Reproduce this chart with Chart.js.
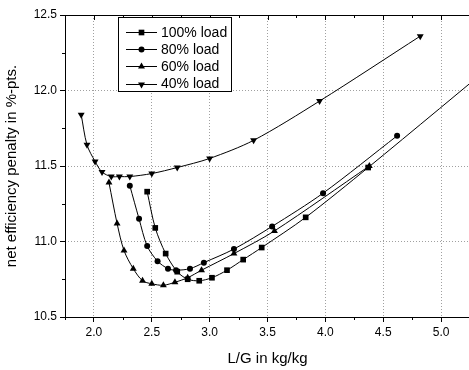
<!DOCTYPE html>
<html><head><meta charset="utf-8">
<script src="https://cdn.jsdelivr.net/npm/chart.js@4"></script>
<style>html,body{margin:0;padding:0;overflow:hidden;background:#fff}</style>
</head><body>
<canvas id="c" width="474" height="370" style="display:block"></canvas>
<script>
// ---- data ----
const seriesLabels = ['100% load', '80% load', '60% load', '40% load'];

const load100x = [2.46, 2.53, 2.62, 2.72, 2.81, 2.91, 3.02, 3.15, 3.29, 3.45, 3.83, 4.37, 5.60];
const load100y = [11.33, 11.09, 10.92, 10.80, 10.75, 10.74, 10.76, 10.81, 10.88, 10.96, 11.16, 11.49, 12.27];

const load80x = [2.31, 2.39, 2.46, 2.55, 2.64, 2.71, 2.83, 2.95, 3.21, 3.54, 3.98, 4.62];
const load80y = [11.37, 11.15, 10.97, 10.87, 10.82, 10.81, 10.82, 10.86, 10.95, 11.10, 11.32, 11.70];

const load60x = [2.13, 2.20, 2.26, 2.34, 2.42, 2.50, 2.60, 2.70, 2.81, 2.93, 3.21, 3.56, 4.38];
const load60y = [11.39, 11.12, 10.94, 10.82, 10.74, 10.72, 10.71, 10.73, 10.76, 10.81, 10.92, 11.07, 11.50];

const load40x = [1.89, 1.94, 2.01, 2.07, 2.15, 2.22, 2.31, 2.50, 2.72, 3.00, 3.38, 3.95, 4.82];
const load40y = [11.84, 11.64, 11.53, 11.46, 11.43, 11.43, 11.43, 11.45, 11.49, 11.55, 11.67, 11.93, 12.36];

const xTicks = [2.0, 2.5, 3.0, 3.5, 4.0, 4.5, 5.0];
const xMinorTicks = [1.75, 2.25, 2.75, 3.25, 3.75, 4.25, 4.75, 5.25];
const yTicks = [10.5, 11.0, 11.5, 12.0, 12.5];
const yMinorTicks = [10.75, 11.25, 11.75, 12.25];
const xRange = [1.75, 5.25];
const yRange = [10.5, 12.5];
const xTitle = 'L/G in kg/kg';
const yTitle = 'net efficiency penalty in %-pts.';

const FONT = '"Liberation Sans", Arial, sans-serif';
const pts = (xs, ys) => xs.map((v, i) => ({x: v, y: ys[i]}));
const styles = [
  {pointStyle: 'rect', pointRadius: 4, rot: 0},
  {pointStyle: 'circle', pointRadius: 3, rot: 0},
  {pointStyle: 'triangle', pointRadius: 4, rot: 0},
  {pointStyle: 'triangle', pointRadius: 4, rot: 180}
];
const allData = [pts(load100x, load100y), pts(load80x, load80y), pts(load60x, load60y), pts(load40x, load40y)];

const datasets = allData.map((d, i) => ({
  label: seriesLabels[i],
  data: d,
  borderColor: '#000',
  backgroundColor: '#000',
  borderWidth: 1,
  pointStyle: styles[i].pointStyle,
  pointRadius: styles[i].pointRadius,
  pointRotation: styles[i].rot,
  pointBorderWidth: 0,
  pointHoverRadius: styles[i].pointRadius,
  tension: 0.3,
  fill: false
}));

const framePlugin = {
  id: 'frame',
  afterDraw(chart) {
    const {ctx, chartArea: a, scales: {x, y}} = chart;
    ctx.save();
    ctx.strokeStyle = '#000';
    ctx.lineWidth = 1;
    ctx.strokeRect(Math.round(a.left) + 0.5, Math.round(a.top) + 0.5, Math.round(a.right - a.left), Math.round(a.bottom - a.top));
    ctx.beginPath();
    // minor ticks bottom (outward) and top (inward)
    xMinorTicks.forEach(v => {
      const px = Math.round(x.getPixelForValue(v)) + 0.5;
      ctx.moveTo(px, a.bottom); ctx.lineTo(px, a.bottom + 3);
      ctx.moveTo(px, a.top); ctx.lineTo(px, a.top + 3);
    });
    xTicks.forEach(v => {
      const px = Math.round(x.getPixelForValue(v)) + 0.5;
      ctx.moveTo(px, a.top); ctx.lineTo(px, a.top + 5);
    });
    yMinorTicks.forEach(v => {
      const py = Math.round(y.getPixelForValue(v)) + 0.5;
      ctx.moveTo(a.left - 3, py); ctx.lineTo(a.left, py);
    });
    ctx.stroke();

    // legend
    const lx = 118, ly = 17, lw = 113, lh = 74;
    ctx.fillStyle = '#fff';
    ctx.fillRect(lx, ly, lw, lh);
    ctx.strokeRect(lx + 0.5, ly + 0.5, lw, lh);
    ctx.font = '14px ' + FONT;
    ctx.textBaseline = 'middle';
    chart.data.datasets.forEach((ds, i) => {
      const ry = ly + 15 + i * 17.2;
      ctx.strokeStyle = '#000';
      ctx.beginPath();
      ctx.moveTo(lx + 8, Math.round(ry) + 0.5);
      ctx.lineTo(lx + 39, Math.round(ry) + 0.5);
      ctx.stroke();
      ctx.fillStyle = '#000';
      Chart.helpers.drawPoint(ctx, {
        pointStyle: ds.pointStyle, radius: ds.pointRadius, rotation: ds.pointRotation, borderWidth: 0
      }, lx + 23.5, Math.round(ry) + 0.5);
      ctx.fillStyle = '#000';
      ctx.fillText(ds.label, lx + 43, ry + 1);
    });
    ctx.restore();
  }
};

new Chart(document.getElementById('c'), {
  type: 'line',
  data: {datasets},
  options: {
    responsive: false,
    animation: false,
    events: [],
    layout: {padding: {top: 15, right: 1, left: 0, bottom: 0}},
    plugins: {legend: {display: false}, tooltip: {enabled: false}},
    scales: {
      x: {
        type: 'linear', position: 'bottom', min: xRange[0], max: xRange[1],
        afterBuildTicks: s => { s.ticks = xTicks.map(v => ({value: v})); },
        afterFit: s => { s.height = 53; },
        ticks: {callback: v => Number(v).toFixed(1), font: {family: FONT, size: 12}, color: '#000', padding: 3, maxRotation: 0, autoSkip: false},
        grid: {color: '#a0a0a0', lineWidth: 1, tickLength: 5, tickColor: '#000', drawTicks: true},
        border: {display: false, dash: [1, 2]},
        title: {display: true, text: xTitle, font: {family: FONT, size: 15}, color: '#000', padding: {top: 0, bottom: 2}}
      },
      y: {
        type: 'linear', position: 'left', min: yRange[0], max: yRange[1],
        afterBuildTicks: s => { s.ticks = yTicks.map(v => ({value: v})); },
        afterFit: s => { s.width = 65; },
        ticks: {callback: v => Number(v).toFixed(1), font: {family: FONT, size: 12}, color: '#000', padding: 3},
        grid: {color: '#a0a0a0', lineWidth: 1, tickLength: 5, tickColor: '#000', drawTicks: true},
        border: {display: false, dash: [1, 2]},
        title: {display: true, text: yTitle, font: {family: FONT, size: 15}, color: '#000', padding: {top: 3, bottom: 0}}
      }
    }
  },
  plugins: [framePlugin]
});
</script>
</body></html>
